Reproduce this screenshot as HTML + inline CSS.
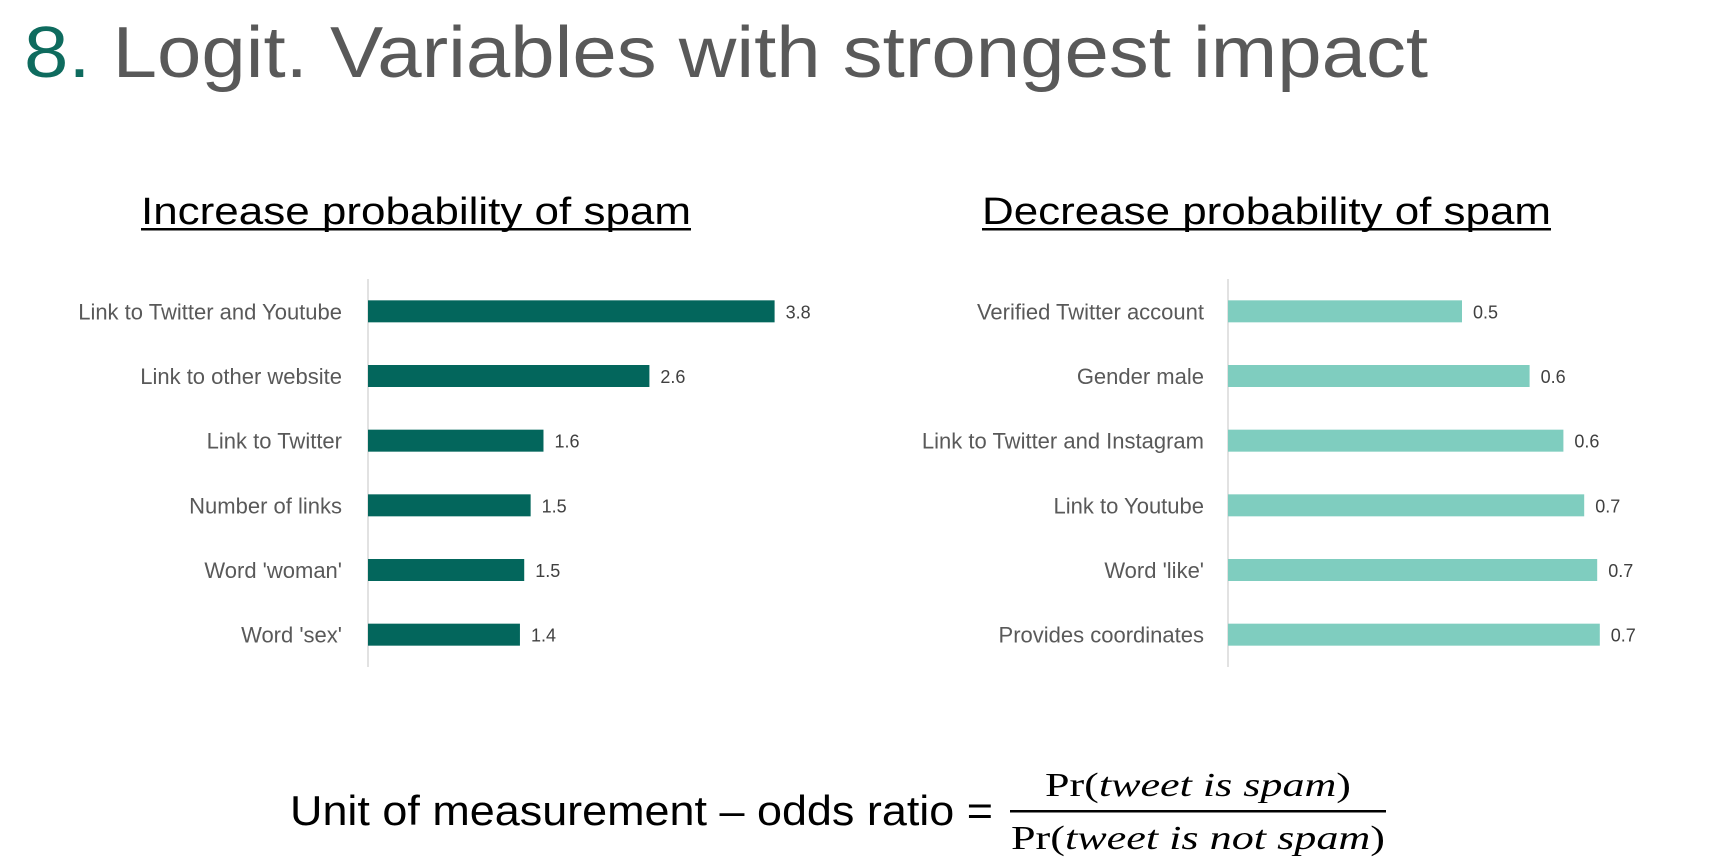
<!DOCTYPE html>
<html><head><meta charset="utf-8"><style>
html,body{margin:0;padding:0;background:#fff;width:1726px;height:866px;overflow:hidden}
svg{display:block}
</style></head><body>
<svg id="s" width="1726" height="866" viewBox="0 0 1726 866" xmlns="http://www.w3.org/2000/svg">
<text x="24" y="77" font-family="Liberation Sans, sans-serif" font-size="72" fill="#595959" textLength="1404" lengthAdjust="spacingAndGlyphs"><tspan fill="#0e6b5e">8.</tspan> Logit. Variables with strongest impact</text>
<text x="141" y="224" font-family="Liberation Sans, sans-serif" font-size="38" fill="#000" textLength="550" lengthAdjust="spacingAndGlyphs">Increase probability of spam</text>
<rect x="141" y="228" width="550" height="2.5" fill="#000"/>
<text x="982" y="224" font-family="Liberation Sans, sans-serif" font-size="38" fill="#000" textLength="569" lengthAdjust="spacingAndGlyphs">Decrease probability of spam</text>
<rect x="982" y="228" width="569" height="2.5" fill="#000"/>
<g id="left"></g>
<g id="right"></g>
<text x="290" y="825" font-family="Liberation Sans, sans-serif" font-size="42" fill="#000" textLength="703" lengthAdjust="spacingAndGlyphs">Unit of measurement – odds ratio =</text>
<text x="1045" y="796" font-family="Liberation Serif, serif" font-size="34" fill="#000" textLength="306" lengthAdjust="spacingAndGlyphs">Pr(<tspan font-style="italic">tweet is spam</tspan>)</text>
<rect x="1010" y="810" width="376" height="2.5" fill="#000"/>
<text x="1011" y="849" font-family="Liberation Serif, serif" font-size="34" fill="#000" textLength="374" lengthAdjust="spacingAndGlyphs">Pr(<tspan font-style="italic">tweet is not spam</tspan>)</text>
</svg>
<script>
const incCategories=["Link to Twitter and Youtube","Link to other website","Link to Twitter","Number of links","Word 'woman'","Word 'sex'"];
const incValues=[3.8,2.63,1.64,1.52,1.46,1.42];
const incLabels=["3.8","2.6","1.6","1.5","1.5","1.4"];
const decCategories=["Verified Twitter account","Gender male","Link to Twitter and Instagram","Link to Youtube","Word 'like'","Provides coordinates"];
const decValues=[0.45,0.58,0.645,0.685,0.71,0.715];
const decLabels=["0.5","0.6","0.6","0.7","0.7","0.7"];
const NS="http://www.w3.org/2000/svg";
function mk(t,a,p){const e=document.createElementNS(NS,t);for(const k in a)e.setAttribute(k,a[k]);p.appendChild(e);return e;}
function draw(gid,cats,vals,labs,x0,scale,color,labelRight){
  const g=document.getElementById(gid);
  const top=279,bottom=667,n=cats.length,band=(bottom-top)/n;
  const y=i=>top+band*(i+0.5);
  const x=v=>x0+v*scale;
  const ax=mk('line',{x1:x0,y1:top,x2:x0,y2:bottom,stroke:'#d9d9d9','stroke-width':1.5},g);
  
  
  cats.forEach((c,i)=>{
    const b=mk('rect',{x:x0,y:y(i)-11,width:x(vals[i])-x0,height:22,fill:color},g);
    
    
    const t=mk('text',{x:labelRight,y:y(i)+8,'text-anchor':'end','font-family':'Liberation Sans, sans-serif','font-size':22,fill:'#595959'},g);
    t.textContent=c;
    
    
    const v=mk('text',{x:x(vals[i])+11,y:y(i)+7,'font-family':'Liberation Sans, sans-serif','font-size':18,fill:'#404040'},g);
    v.textContent=labs[i];
    
    
  });
}
draw('left',incCategories,incValues,incLabels,368,107,'#03665c',342);
draw('right',decCategories,decValues,decLabels,1228,520,'#7fcdbf',1204);
</script>
</body></html>
